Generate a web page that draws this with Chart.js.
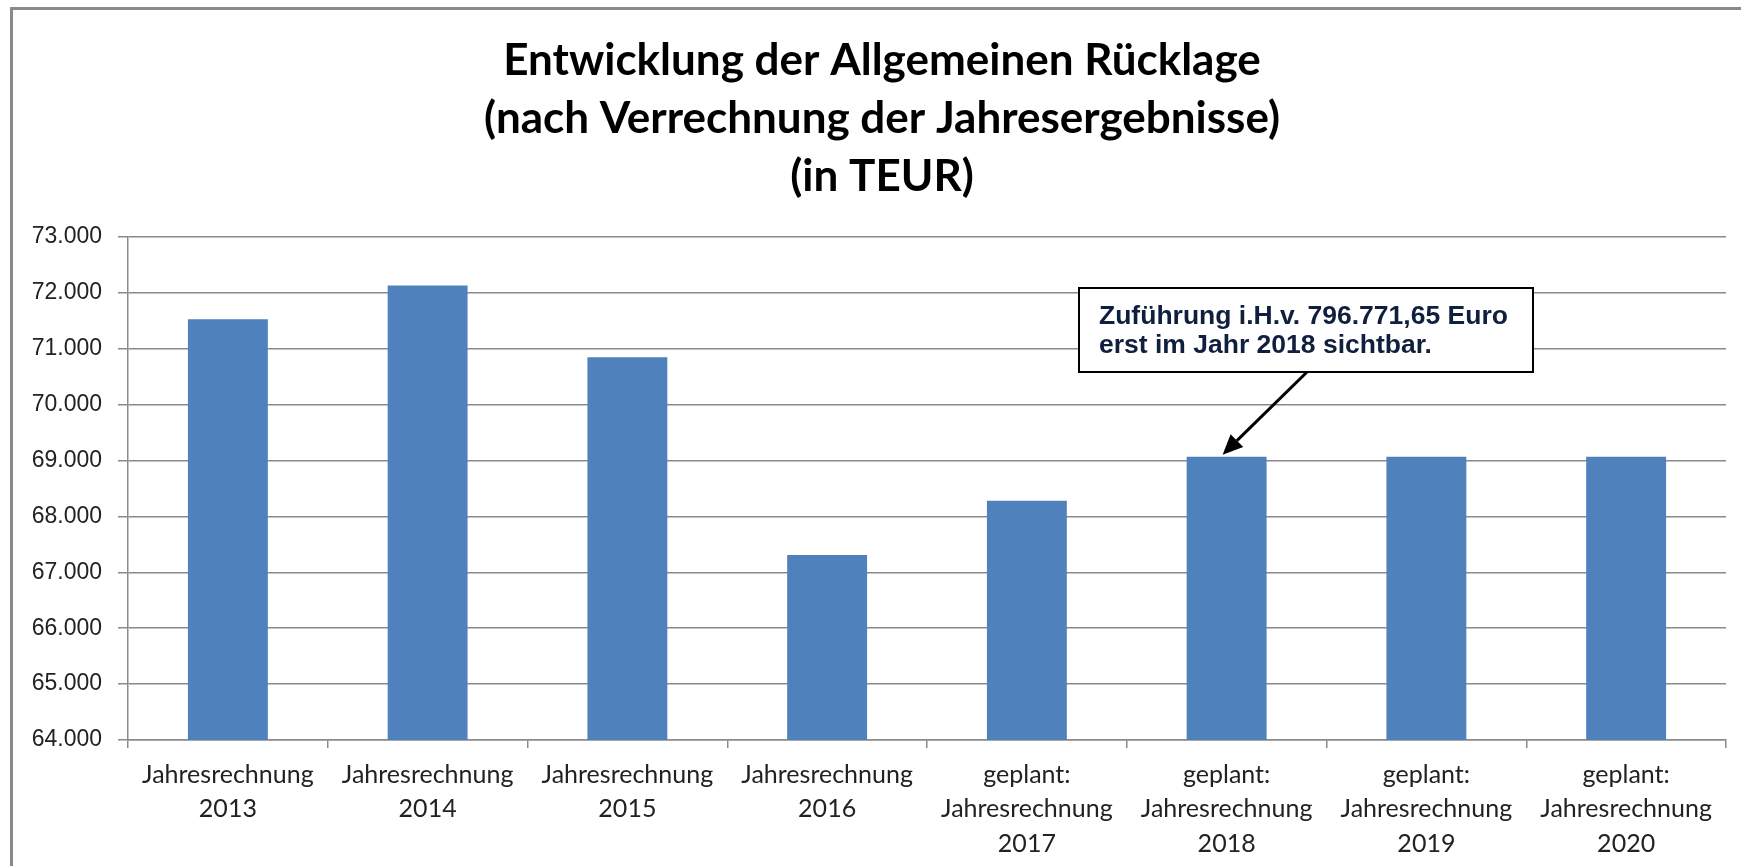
<!DOCTYPE html>
<html lang="de">
<head>
<meta charset="utf-8">
<title>Entwicklung der Allgemeinen Rücklage</title>
<script src="https://cdn.jsdelivr.net/npm/chart.js@4.4.1/dist/chart.umd.min.js"></script>
<style>
  html, body { margin: 0; padding: 0; background: #fff; }
  #wrap { width: 1741px; height: 866px; position: relative; }
</style>
</head>
<body>
<div id="wrap"><canvas id="chart"></canvas></div>
<script>
// Daten (in TEUR)
const kategorien = [
  ['Jahresrechnung', '2013'],
  ['Jahresrechnung', '2014'],
  ['Jahresrechnung', '2015'],
  ['Jahresrechnung', '2016'],
  ['geplant:', 'Jahresrechnung', '2017'],
  ['geplant:', 'Jahresrechnung', '2018'],
  ['geplant:', 'Jahresrechnung', '2019'],
  ['geplant:', 'Jahresrechnung', '2020']
];
const ruecklage = [71530, 72130, 70850, 67310, 68280, 69070, 69070, 69070];
const yTicks = [64000, 65000, 66000, 67000, 68000, 69000, 70000, 71000, 72000, 73000];

const titelZeilen = [
  'Entwicklung der Allgemeinen Rücklage',
  '(nach Verrechnung der Jahresergebnisse)',
  '(in TEUR)'
];
const hinweisZeilen = ['Zuführung i.H.v. 796.771,65 Euro', 'erst im Jahr 2018 sichtbar.'];
const hinweisIndex = 5; // Balken, auf den der Pfeil zeigt

const fmt = v => String(v).replace(/\B(?=(\d{3})+(?!\d))/g, '.');

// Rahmen + Titel
const rahmenTitel = {
  id: 'rahmenTitel',
  beforeDraw(chart) {
    const c = chart.ctx;
    c.save();
    c.fillStyle = '#fff';
    c.fillRect(0, 0, chart.width, chart.height);
    c.strokeStyle = '#8a8a8a';
    c.lineWidth = 3;
    c.beginPath();
    c.moveTo(11.5, chart.height + 5);
    c.lineTo(11.5, 8.5);
    c.lineTo(chart.width + 5, 8.5);
    c.stroke();

    c.fillStyle = '#000';
    c.font = 'bold 44px Lato';
    c.textAlign = 'center';
    c.textBaseline = 'alphabetic';
    titelZeilen.forEach((t, i) => c.fillText(t, 882, 75 + i * 58));
    c.restore();
  }
};

// Hinweisbox mit Pfeil
const hinweis = {
  id: 'hinweis',
  afterDraw(chart) {
    const c = chart.ctx;
    const xs = chart.scales.x, ys = chart.scales.y;
    const tipX = xs.getPixelForValue(hinweisIndex) - 4;
    const tipY = ys.getPixelForValue(ruecklage[hinweisIndex]) - 2;
    const bx = 1079, by = 288, bw = 454, bh = 84;
    c.save();
    c.fillStyle = '#fff';
    c.fillRect(bx, by, bw, bh);
    c.strokeStyle = '#000';
    c.lineWidth = 2;
    c.strokeRect(bx, by, bw, bh);

    c.fillStyle = '#0f1f3d';
    c.font = 'bold 26.5px "Liberation Sans", Arial';
    c.textAlign = 'left';
    c.textBaseline = 'alphabetic';
    hinweisZeilen.forEach((t, i) => c.fillText(t, bx + 20, by + 36 + i * 29));

    // Pfeil
    const sx = 1307, sy = by + bh;
    const ang = Math.atan2(tipY - sy, tipX - sx);
    const hl = 20, hw = 9;
    const baseX = tipX - hl * Math.cos(ang), baseY = tipY - hl * Math.sin(ang);
    c.strokeStyle = '#000';
    c.lineWidth = 3;
    c.beginPath();
    c.moveTo(sx, sy);
    c.lineTo(baseX, baseY);
    c.stroke();
    c.fillStyle = '#000';
    c.beginPath();
    c.moveTo(tipX, tipY);
    c.lineTo(baseX + hw * Math.sin(ang), baseY - hw * Math.cos(ang));
    c.lineTo(baseX - hw * Math.sin(ang), baseY + hw * Math.cos(ang));
    c.closePath();
    c.fill();
    c.restore();
  }
};

const ctx = document.getElementById('chart').getContext('2d');
new Chart(ctx, {
  type: 'bar',
  data: {
    labels: kategorien,
    datasets: [{
      data: ruecklage,
      backgroundColor: '#4f81bd',
      borderWidth: 0,
      categoryPercentage: 1,
      barPercentage: 0.4
    }]
  },
  options: {
    responsive: true,
    maintainAspectRatio: false,
    animation: false,
    events: [],
    layout: { padding: { top: 237, right: 15, bottom: 0, left: 0 } },
    plugins: {
      legend: { display: false },
      title: { display: false },
      tooltip: { enabled: false }
    },
    scales: {
      x: {
        offset: true,
        afterFit(scale) { scale.height = 126; },
        border: { display: true, color: '#8a8a8a', width: 1.5 },
        grid: {
          offset: true,
          drawOnChartArea: false,
          drawTicks: true,
          tickLength: 8,
          color: '#8a8a8a',
          lineWidth: 1.5
        },
        ticks: {
          padding: 10,
          maxRotation: 0,
          autoSkip: false,
          color: '#222',
          font: { family: 'Lato', size: 25, lineHeight: 1.37 }
        }
      },
      y: {
        min: 64000,
        max: 73000,
        afterFit(scale) { scale.width = 128; },
        afterBuildTicks(scale) { scale.ticks = yTicks.map(v => ({ value: v })); },
        border: { display: true, color: '#8a8a8a', width: 1.5 },
        grid: {
          color: '#8a8a8a',
          lineWidth: 1.5,
          drawTicks: true,
          tickLength: 10
        },
        ticks: {
          padding: 16,
          color: '#222',
          font: { family: '"Liberation Sans", Arial', size: 23 },
          callback: v => fmt(v)
        }
      }
    }
  },
  plugins: [rahmenTitel, hinweis]
});
</script>
</body>
</html>
